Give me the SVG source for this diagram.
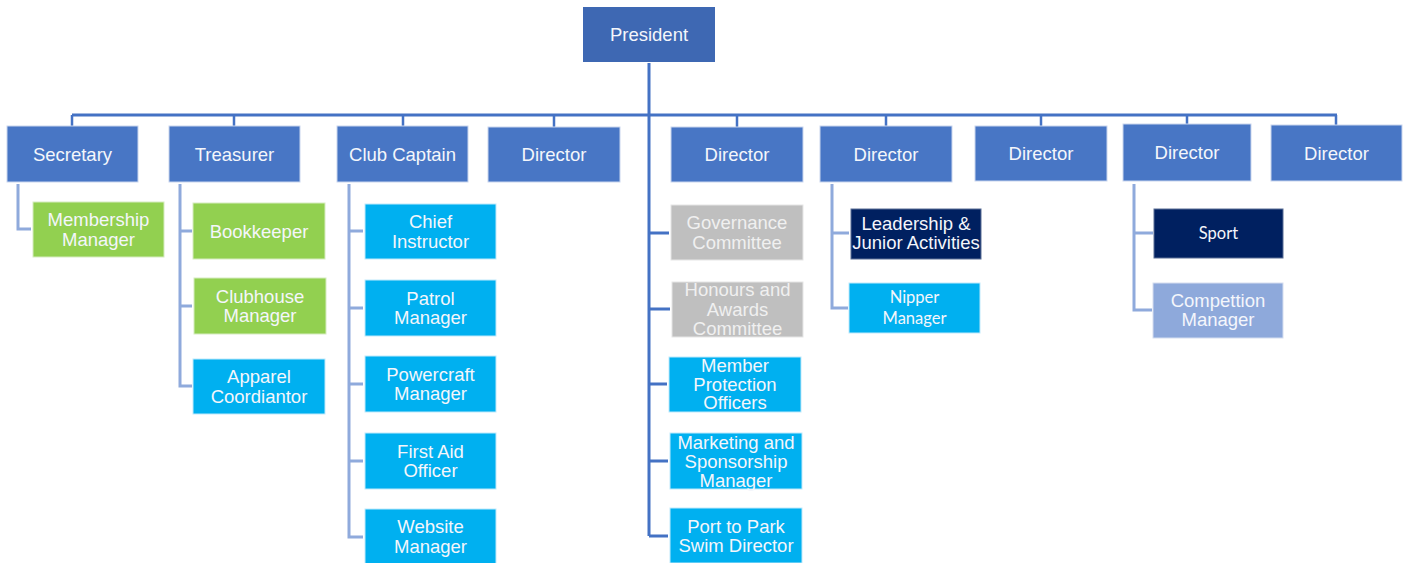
<svg xmlns="http://www.w3.org/2000/svg" width="1405" height="563" viewBox="0 0 1405 563">
<style>
.t{font-family:"Liberation Sans",Arial,sans-serif;font-size:18.5px;fill:#f4f6fb;text-anchor:middle}
.c{font-family:Lato,"Noto Sans",sans-serif;font-size:16.5px;fill:#f4f6fb;text-anchor:middle}
.gt{fill:#f0f0f0}
.pres{fill:#3e68b3}
.l1{fill:#4876c5;stroke:#c9d6ee;stroke-width:1}
.green{fill:#92d050;stroke:#d6ecc0;stroke-width:1}
.cyan{fill:#00b0f0;stroke:#bfe9fb;stroke-width:1}
.gray{fill:#bfbfbf;stroke:#e6e6e6;stroke-width:1}
.navy{fill:#002060;stroke:#5a6e96;stroke-width:1}
.lav{fill:#8ea9db;stroke:#d5def0;stroke-width:1}
.main{fill:none;stroke:#4472c4;stroke-width:3}
.tick{fill:none;stroke:#4472c4;stroke-width:2.5}
.sub{fill:none;stroke:#8faadc;stroke-width:3}
</style>
<g id="connectors">
<path class="main" d="M649,63V536M72,115H1337"/>
<path class="tick" d="M72,115V126M234,115V126M403,115V126M554,115V127M737,115V127M886,115V126M1041,115V126M1187,115V124M1336,115V125"/>
<path class="main" d="M649,233H669M649,309H670M649,384H667M649,461H668M649,536H668"/>
<path class="sub" d="M18,184V229H31"/>
<path class="sub" d="M180,184V386H192M180,231H192M180,306H192"/>
<path class="sub" d="M349,184V537H363M349,231H363M349,308H363M349,384H363M349,461H363"/>
<path class="sub" d="M832,184V308H848M832,233H849"/>
<path class="sub" d="M1134,184V310H1152M1134,233H1153"/>
</g>
<g id="president"><rect class="pres" x="583" y="7" width="132" height="55"/><text class="t" x="649" y="41">President</text></g>
<g id="secretary"><rect class="l1" x="7" y="126" width="131" height="56"/><text class="t" x="72.5" y="160.5">Secretary</text></g>
<g id="treasurer"><rect class="l1" x="169" y="126" width="131" height="56"/><text class="t" x="234.5" y="160.5">Treasurer</text></g>
<g id="club-captain"><rect class="l1" x="337" y="126" width="131" height="56"/><text class="t" x="402.5" y="160.5">Club Captain</text></g>
<g id="director-1"><rect class="l1" x="488" y="127" width="132" height="55"/><text class="t" x="554" y="161">Director</text></g>
<g id="director-2"><rect class="l1" x="671" y="127" width="132" height="55"/><text class="t" x="737" y="161">Director</text></g>
<g id="director-3"><rect class="l1" x="820" y="126" width="132" height="56"/><text class="t" x="886" y="160.5">Director</text></g>
<g id="director-4"><rect class="l1" x="975" y="126" width="132" height="55"/><text class="t" x="1041" y="160">Director</text></g>
<g id="director-5"><rect class="l1" x="1123" y="124" width="128" height="57"/><text class="t" x="1187" y="159">Director</text></g>
<g id="director-6"><rect class="l1" x="1271" y="125" width="131" height="56"/><text class="t" x="1336.5" y="159.5">Director</text></g>
<g id="membership-manager"><rect class="green" x="33" y="202" width="131" height="55"/><text class="t" x="98.5" y="226.3">Membership</text><text class="t" x="98.5" y="245.8">Manager</text></g>
<g id="bookkeeper"><rect class="green" x="193" y="203" width="132" height="56"/><text class="t" x="259" y="237.5">Bookkeeper</text></g>
<g id="clubhouse-manager"><rect class="green" x="194" y="278" width="132" height="56"/><text class="t" x="260" y="302.8">Clubhouse</text><text class="t" x="260" y="322.3">Manager</text></g>
<g id="apparel-coordiantor"><rect class="cyan" x="193" y="359" width="132" height="55"/><text class="t" x="259" y="383.3">Apparel</text><text class="t" x="259" y="402.8">Coordiantor</text></g>
<g id="chief-instructor"><rect class="cyan" x="365" y="204" width="131" height="55"/><text class="t" x="430.5" y="228.3">Chief</text><text class="t" x="430.5" y="247.8">Instructor</text></g>
<g id="patrol-manager"><rect class="cyan" x="365" y="280" width="131" height="56"/><text class="t" x="430.5" y="304.8">Patrol</text><text class="t" x="430.5" y="324.3">Manager</text></g>
<g id="powercraft-manager"><rect class="cyan" x="365" y="356" width="131" height="56"/><text class="t" x="430.5" y="380.8">Powercraft</text><text class="t" x="430.5" y="400.3">Manager</text></g>
<g id="first-aid-officer"><rect class="cyan" x="365" y="433" width="131" height="56"/><text class="t" x="430.5" y="457.8">First Aid</text><text class="t" x="430.5" y="477.3">Officer</text></g>
<g id="website-manager"><rect class="cyan" x="365" y="509" width="131" height="55"/><text class="t" x="430.5" y="533.3">Website</text><text class="t" x="430.5" y="552.8">Manager</text></g>
<g id="governance-committee"><rect class="gray" x="671" y="205" width="132" height="55"/><text class="t gt" x="737" y="229.3">Governance</text><text class="t gt" x="737" y="248.8">Committee</text></g>
<g id="honours-awards-committee"><rect class="gray" x="672" y="282" width="131" height="55"/><text class="t gt" x="737.5" y="296.3">Honours and</text><text class="t gt" x="737.5" y="315.8">Awards</text><text class="t gt" x="737.5" y="334.8">Committee</text></g>
<g id="member-protection-officers"><rect class="cyan" x="669" y="357" width="132" height="55"/><text class="t" x="735" y="371.5">Member</text><text class="t" x="735" y="390.5">Protection</text><text class="t" x="735" y="409.3">Officers</text></g>
<g id="marketing-sponsorship-manager"><rect class="cyan" x="670" y="433" width="132" height="56"/><text class="t" x="736" y="448.8">Marketing and</text><text class="t" x="736" y="467.8">Sponsorship</text><text class="t" x="736" y="486.5">Manager</text></g>
<g id="port-to-park-swim-director"><rect class="cyan" x="670" y="508" width="132" height="55"/><text class="t" x="736" y="532.5">Port to Park</text><text class="t" x="736" y="551.5">Swim Director</text></g>
<g id="leadership-junior-activities"><rect class="navy" x="851" y="209" width="130" height="50"/><text class="t" x="916" y="229.8">Leadership &amp;</text><text class="t" x="916" y="249.2">Junior Activities</text></g>
<g id="nipper-manager"><rect class="cyan" x="849" y="283" width="131" height="50"/><text class="c" x="914.5" y="303">Nipper</text><text class="c" x="914.5" y="324">Manager</text></g>
<g id="sport"><rect class="navy" x="1154" y="209" width="129" height="49"/><text class="c" x="1218.5" y="239.3">Sport</text></g>
<g id="competition-manager"><rect class="lav" x="1153" y="283" width="130" height="55"/><text class="t" x="1218" y="306.5">Compettion</text><text class="t" x="1218" y="325.5">Manager</text></g>
</svg>
